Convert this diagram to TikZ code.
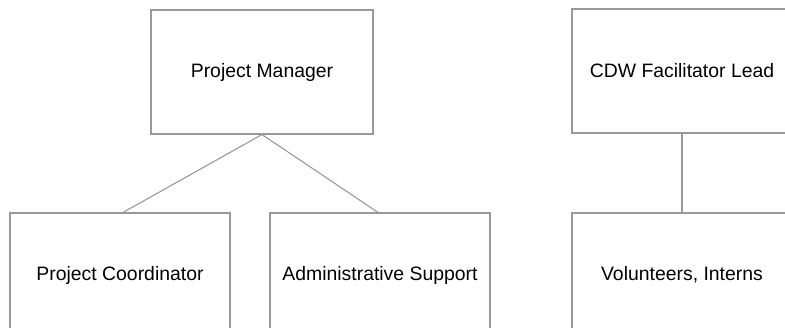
\documentclass[tikz,border=0pt]{standalone}
\usepackage{fontspec}
\setmainfont{Liberation Sans}
\begin{document}
\begin{tikzpicture}[x=1pt,y=-1pt,
  box/.style={draw=black!40, line width=1.1pt, minimum width=220pt, minimum height=124pt,
    inner sep=0pt, font=\fontsize{19.4}{22}\selectfont, text=black},
  link/.style={draw=black!40, line width=1.1pt}]
\useasboundingbox (0,0) rectangle (785,328);
\clip (0,0) rectangle (785,328);
\node[box, minimum width=222pt] (pm) at (262,72) {Project Manager};
\node[box] (pc) at (120,275) {Project Coordinator};
\node[box] (as) at (380,275) {Administrative Support};
\node[box] (cdw) at (682,71) {CDW Facilitator Lead};
\node[box] (vi) at (682,275) {Volunteers, Interns};
\draw[link] (pm.south) -- ([xshift=3pt]pc.north);
\draw[link] (pm.south) -- ([xshift=-2pt]as.north);
\draw[link] (cdw.south) -- (vi.north);
\end{tikzpicture}
\end{document}
